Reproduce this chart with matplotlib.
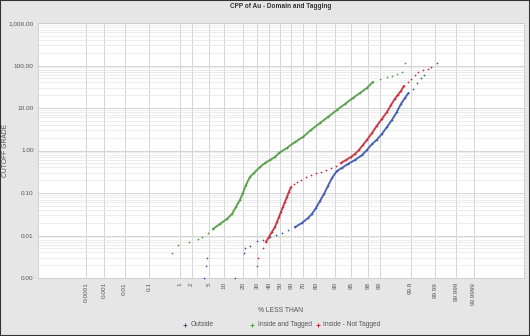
import math
import numpy as np
import matplotlib
matplotlib.use("Agg")
import matplotlib.pyplot as plt
from matplotlib.ticker import FixedLocator, FixedFormatter, LogLocator, NullFormatter
from matplotlib.patches import Rectangle
from matplotlib.lines import Line2D

# ---------------- data ----------------
outside_pct = [3.9, 4.3, 4.5, 20.3, 21.0, 24.5, 29.8, 34.8, 40.9, 46.3, 51.8, 57.3,
               63.5, 69.4, 74.1, 76.9, 79.7, 82.2, 84.5, 86.6, 88.5, 90.6, 92.4,
               94.2, 95.9, 97.2, 97.85, 98.4, 98.8, 99.14, 99.39, 99.57, 99.70,
               99.78, 99.84, 99.88, 99.92, 99.94, 99.96, 99.97, 99.992]
outside_grade = [0.001, 0.0019, 0.0030, 0.0039, 0.0051, 0.0057, 0.0074, 0.0078,
                 0.0092, 0.0103, 0.0115, 0.0135, 0.0158, 0.0197, 0.0258, 0.0321,
                 0.0444, 0.0649, 0.0947, 0.146, 0.225, 0.330, 0.388, 0.481, 0.597,
                 0.783, 1.03, 1.42, 1.77, 2.44, 3.57, 5.22, 8.05, 12.4, 17.2, 22.5,
                 28.0, 38.7, 50.8, 59.7, 115.0]

tagged_pct = [0.57, 0.86, 1.70, 2.84, 3.51, 4.76, 6.04, 8.27, 11.07, 13.42, 15.53,
              17.83, 19.69, 21.68, 24.48, 27.46, 32.29, 36.5, 40.9, 45.4, 49.1,
              56.4, 63.5, 70.2, 76.2, 82.2, 86.6, 90.6, 93.37, 95.47, 96.84,
              97.85, 98.49, 99.03, 99.39, 99.57, 99.70, 99.80, 99.84]
tagged_grade = [0.0039, 0.0060, 0.0070, 0.0083, 0.0092, 0.0115, 0.0142, 0.0187,
                0.0245, 0.0321, 0.0469, 0.0684, 0.100, 0.154, 0.238, 0.296, 0.409,
                0.508, 0.597, 0.703, 0.873, 1.15, 1.58, 2.08, 3.03, 4.43, 6.14,
                8.97, 12.4, 17.2, 22.5, 29.6, 40.9, 48.1, 53.6, 56.6, 63.1, 70.3,
                115.0]

nottag_pct = [15.0, 29.8, 30.6, 34.8, 37.4, 40.0, 42.7, 45.4, 47.3, 49.1, 50.9,
              52.7, 54.6, 56.4, 58.2, 60.0, 62.6, 65.2, 68.5, 72.5, 76.2, 79.7,
              82.8, 85.6, 88.04, 90.2, 92.07, 93.67, 95.0, 95.9, 96.67, 97.31,
              97.85, 98.4, 98.8, 99.14, 99.39, 99.54, 99.65, 99.72, 99.78, 99.826,
              99.874, 99.902, 99.930, 99.946, 99.966, 99.979, 99.985]
nottag_grade = [0.001, 0.0019, 0.0030, 0.0051, 0.0070, 0.0092, 0.0121, 0.0158,
                0.0208, 0.0272, 0.0357, 0.0469, 0.0614, 0.0805, 0.106, 0.138, 0.163,
                0.182, 0.202, 0.238, 0.265, 0.296, 0.312, 0.348, 0.388, 0.432,
                0.508, 0.597, 0.703, 0.828, 1.03, 1.35, 1.77, 2.58, 3.77, 5.51,
                8.05, 11.8, 16.3, 20.2, 25.1, 33.0, 40.9, 48.1, 59.7, 70.3, 78.3,
                82.7, 92.2]

series_names = ["Outside", "Inside and Tagged", "Inside - Not Tagged"]

x_ticks = [0.0001, 0.001, 0.01, 0.1, 1, 2, 5, 10, 20, 30, 40, 50, 60, 70, 80, 90,
           95, 98, 99, 99.9, 99.99, 99.999, 99.9999]
x_tick_labels = ["0.0001", "0.001", "0.01", "0.1", "1", "2", "5", "10", "20", "30",
                 "40", "50", "60", "70", "80", "90", "95", "98", "99", "99.9",
                 "99.99", "99.999", "99.9999"]
y_ticks = [0.001, 0.01, 0.1, 1, 10, 100, 1000]
y_tick_labels = ["0.00", "0.01", "0.10", "1.00", "10.00", "100.00", "1,000.00"]

# ---------------- probability scale ----------------
_A = [-3.969683028665376e+01, 2.209460984245205e+02, -2.759285104469687e+02,
      1.383577518672690e+02, -3.066479806614716e+01, 2.506628277459239e+00]
_B = [-5.447609879822406e+01, 1.615858368580409e+02, -1.556989798598866e+02,
      6.680131188771972e+01, -1.328068155288572e+01]
_C = [-7.784894002430293e-03, -3.223964580411365e-01, -2.400758277161838e+00,
      -2.549732539343734e+00, 4.374664141464968e+00, 2.938163982698783e+00]
_D = [7.784695709041462e-03, 3.224671290700398e-01, 2.445134137142996e+00,
      3.754408661907416e+00]


def norm_ppf(p):
    p = np.clip(np.asarray(p, dtype=float), 1e-300, 1 - 1e-16)
    out = np.empty_like(p)
    plow = 0.02425
    with np.errstate(all="ignore"):
        lo = p < plow
        hi = p > 1 - plow
        mid = ~(lo | hi)
        q = np.sqrt(-2 * np.log(p))
        xl = (((((_C[0]*q+_C[1])*q+_C[2])*q+_C[3])*q+_C[4])*q+_C[5]) / \
             ((((_D[0]*q+_D[1])*q+_D[2])*q+_D[3])*q+1)
        q2 = np.sqrt(-2 * np.log1p(-p))
        xh = -(((((_C[0]*q2+_C[1])*q2+_C[2])*q2+_C[3])*q2+_C[4])*q2+_C[5]) / \
             ((((_D[0]*q2+_D[1])*q2+_D[2])*q2+_D[3])*q2+1)
        qm = p - 0.5
        r = qm * qm
        xm = (((((_A[0]*r+_A[1])*r+_A[2])*r+_A[3])*r+_A[4])*r+_A[5])*qm / \
             (((((_B[0]*r+_B[1])*r+_B[2])*r+_B[3])*r+_B[4])*r+1)
    out[lo] = xl[lo]
    out[hi] = xh[hi]
    out[mid] = xm[mid]
    return out


_erfc = np.vectorize(math.erfc)
K = 0.003


def fwd(pct):
    z = norm_ppf(np.asarray(pct, dtype=float) / 100.0)
    return z / (1 + K * z * z)


def inv(u):
    u = np.clip(np.asarray(u, dtype=float), -9.0, 9.0)
    with np.errstate(all="ignore"):
        z = np.where(np.abs(u) < 1e-9, u,
                     (1 - np.sqrt(1 - 4 * K * u * u)) / (2 * K * u))
    return 100.0 * 0.5 * _erfc(-z / math.sqrt(2))


# ---------------- figure ----------------
plt.rcParams["font.family"] = ["Liberation Sans", "DejaVu Sans"]
BG = "#e6e6e6"
W, H = 530, 336
fig = plt.figure(figsize=(W/100, H/100), dpi=100, facecolor=BG)
ax = fig.add_axes([38/W, 1-278/H, (524-38)/W, (278-23)/H])
ax.set_facecolor("white")

ax.set_xscale("function", functions=(fwd, inv))
ax.set_yscale("log")
ax.set_xlim(float(inv(-5.56)), float(inv(5.61)))
ax.set_ylim(0.001, 1000)

ax.xaxis.set_major_locator(FixedLocator(x_ticks))
ax.xaxis.set_major_formatter(FixedFormatter(x_tick_labels))
ax.xaxis.set_minor_locator(FixedLocator([]))
ax.yaxis.set_major_locator(FixedLocator(y_ticks))
ax.yaxis.set_major_formatter(FixedFormatter(y_tick_labels))
ax.yaxis.set_minor_locator(LogLocator(base=10, subs=np.arange(2, 10)))
ax.yaxis.set_minor_formatter(NullFormatter())

ax.grid(True, which="major", axis="both", color="#d4d4d4", lw=0.7)
ax.grid(True, which="minor", axis="y", color="#e6e6e6", lw=0.5)
ax.set_axisbelow(True)
ax.tick_params(axis="both", which="both", length=0, labelsize=4.6,
               colors="#555555", pad=3)
ax.tick_params(axis="x", labelrotation=90)
for s in ax.spines.values():
    s.set_color("#cccccc")
    s.set_linewidth(0.6)

BLUE = "#3a55a8"
GREEN = "#4e9a40"
RED = "#c82a3a"
ms, mew, lw = 2.1, 0.5, 1.4

series = [
    (outside_pct, outside_grade, BLUE, [(12, 36)]),
    (tagged_pct, tagged_grade, GREEN, [(6, 33)]),
    (nottag_pct, nottag_grade, RED, [(4, 16), (26, 42)]),
]
for pct, grade, col, segs in series:
    pct = np.array(pct)
    grade = np.array(grade)
    for a, b in segs:
        ax.plot(pct[a:b], grade[a:b], "-", color=col, lw=lw, zorder=3, alpha=0.9)
    ax.plot(pct, grade, "+", color=col, ms=ms, mew=mew, ls="none",
            zorder=4, clip_on=False)

# texts
fig.text(281/W, 1-6/H, "CPP of Au - Domain and Tagging", ha="center", va="center",
         fontsize=4.7, fontweight="bold", color="#333333")
fig.text(280/W, 1-310/H, "% LESS THAN", ha="center", va="center",
         fontsize=4.9, color="#555555")
fig.text(6/W, 1-150/H, "CUTOFF GRADE", ha="center", va="center", rotation=90,
         fontsize=4.9, color="#555555")

# legend entries placed like the reference
leg_y = 1 - 325/H
for (mx, tx), col, name in zip([(185, 191), (252, 258), (318, 323)],
                               (BLUE, GREEN, RED), series_names):
    fig.add_artist(Line2D([mx/W], [leg_y], marker="+", ls="none", color=col,
                          ms=3.2, mew=0.7, transform=fig.transFigure))
    fig.text(tx/W, leg_y, name, ha="left", va="center", fontsize=4.8,
             color="#555555")

fig.patches.append(Rectangle((0, 0), 1, 1, transform=fig.transFigure,
                             fill=False, edgecolor="#333333", lw=1.5))

fig.savefig("out.png", dpi=100, facecolor=BG)
